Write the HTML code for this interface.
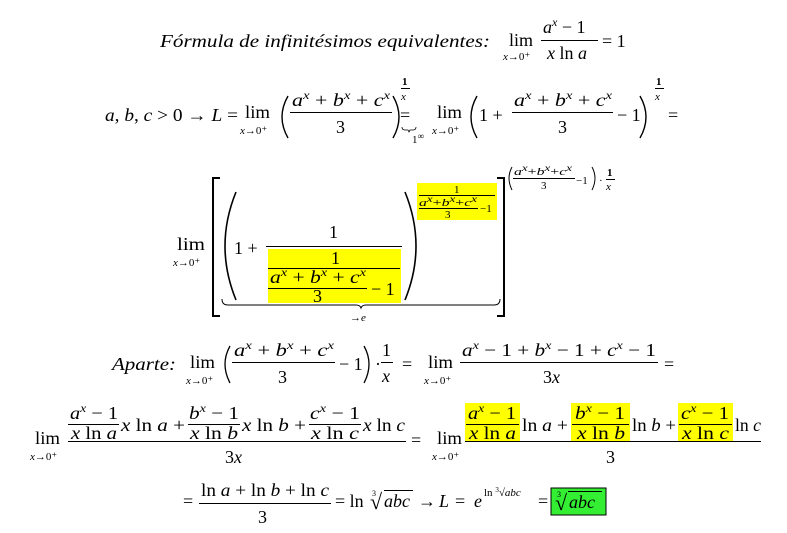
<!DOCTYPE html>
<html><head><meta charset="utf-8"><style>
html,body{margin:0;padding:0;background:#fff;}
svg{display:block;}
text{font-family:"Liberation Serif","DejaVu Serif",serif;font-size:18px;fill:#000;}
.i{font-style:italic;}
.sm{font-size:11px;}
.s{font-size:12px;}
</style></head><body>
<svg width="787" height="533" viewBox="0 0 787 533" xmlns="http://www.w3.org/2000/svg">
<!-- Line 1 -->
<text x="160" y="47" class="i" textLength="330" lengthAdjust="spacingAndGlyphs">Fórmula de infinitésimos equivalentes:</text>
<text x="509" y="46" textLength="24" lengthAdjust="spacingAndGlyphs">lim</text>
<text x="503" y="60" class="sm"><tspan class="i">x</tspan>→0⁺</text>
<text x="543" y="33"><tspan class="i">a</tspan><tspan class="s i" dy="-7">x</tspan><tspan dy="7"> − 1</tspan></text>
<rect x="541" y="40" width="57" height="1"/>
<text x="547" y="59"><tspan class="i">x</tspan> ln <tspan class="i">a</tspan></text>
<text x="602" y="47">= 1</text>

<!-- Line 2 -->
<text x="105" y="121" textLength="133" lengthAdjust="spacingAndGlyphs"><tspan class="i">a</tspan>, <tspan class="i">b</tspan>, <tspan class="i">c</tspan> &gt; 0 → <tspan class="i">L</tspan> =</text>
<text x="245" y="118" textLength="25" lengthAdjust="spacingAndGlyphs">lim</text>
<text x="240" y="134" class="sm"><tspan class="i">x</tspan>→0⁺</text>
<path d="M288 96 Q276 117 288 138" stroke="#000" stroke-width="1.4" fill="none"/>
<text x="292" y="106" textLength="98" lengthAdjust="spacingAndGlyphs"><tspan class="i">a</tspan><tspan class="s i" dy="-7">x</tspan><tspan dy="7"> + </tspan><tspan class="i">b</tspan><tspan class="s i" dy="-7">x</tspan><tspan dy="7"> + </tspan><tspan class="i">c</tspan><tspan class="s i" dy="-7">x</tspan></text>
<rect x="290" y="112" width="102" height="1"/>
<text x="336" y="133">3</text>
<path d="M393 96 Q405 117 393 138" stroke="#000" stroke-width="1.4" fill="none"/>
<text x="402" y="85" class="sm" font-weight="bold">1</text>
<rect x="401" y="88" width="9" height="1"/>
<text x="401" y="100" class="sm i">x</text>
<text x="400" y="121">=</text>
<path d="M402 127 q0 3 3 3 h3 l1 2 l1 -2 h3 q3 0 3 -3" stroke="#000" fill="none" stroke-width="0.8"/>
<text x="412" y="143" class="sm">1<tspan dy="-4" style="font-size:9px">∞</tspan></text>
<text x="437" y="118" textLength="25" lengthAdjust="spacingAndGlyphs">lim</text>
<text x="432" y="134" class="sm"><tspan class="i">x</tspan>→0⁺</text>
<path d="M477 96 Q465 117 477 138" stroke="#000" stroke-width="1.4" fill="none"/>
<text x="479" y="121">1 +</text>
<text x="514" y="106" textLength="98" lengthAdjust="spacingAndGlyphs"><tspan class="i">a</tspan><tspan class="s i" dy="-7">x</tspan><tspan dy="7"> + </tspan><tspan class="i">b</tspan><tspan class="s i" dy="-7">x</tspan><tspan dy="7"> + </tspan><tspan class="i">c</tspan><tspan class="s i" dy="-7">x</tspan></text>
<rect x="512" y="112" width="101" height="1"/>
<text x="558" y="133">3</text>
<text x="617" y="121">− 1</text>
<path d="M640 96 Q652 117 640 138" stroke="#000" stroke-width="1.4" fill="none"/>
<text x="656" y="85" class="sm" font-weight="bold">1</text>
<rect x="655" y="88" width="9" height="1"/>
<text x="655" y="100" class="sm i">x</text>
<text x="668" y="121">=</text>

<!-- Line 3 -->
<text x="177" y="250" textLength="28" lengthAdjust="spacingAndGlyphs">lim</text>
<text x="173" y="266" class="sm"><tspan class="i">x</tspan>→0⁺</text>
<path d="M220 178 H213 V316 H220" stroke="#000" stroke-width="2" fill="none"/>
<path d="M497 178 H504 V316 H497" stroke="#000" stroke-width="2" fill="none"/>
<path d="M236 192 Q214 246 236 300" stroke="#000" stroke-width="1.6" fill="none"/>
<path d="M405 192 Q427 246 405 300" stroke="#000" stroke-width="1.6" fill="none"/>
<rect x="268" y="249" width="133" height="54" fill="#ffff00"/>
<rect x="417" y="183" width="80" height="37" fill="#ffff00"/>
<text x="234" y="254">1 +</text>
<text x="329" y="238">1</text>
<rect x="266" y="246" width="136" height="1"/>
<text x="331" y="264">1</text>
<rect x="268" y="268" width="132" height="1"/>
<text x="270" y="283" textLength="96" lengthAdjust="spacingAndGlyphs"><tspan class="i">a</tspan><tspan class="s i" dy="-7">x</tspan><tspan dy="7"> + </tspan><tspan class="i">b</tspan><tspan class="s i" dy="-7">x</tspan><tspan dy="7"> + </tspan><tspan class="i">c</tspan><tspan class="s i" dy="-7">x</tspan></text>
<rect x="268" y="288" width="99" height="1"/>
<text x="313" y="302">3</text>
<text x="371" y="295">− 1</text>
<text x="454" y="193" class="sm">1</text>
<rect x="419" y="195" width="76" height="1"/>
<text x="419" y="206" class="sm" textLength="58" lengthAdjust="spacingAndGlyphs"><tspan class="i">a</tspan><tspan dy="-4" class="i" style="font-size:9px">x</tspan><tspan dy="4">+</tspan><tspan class="i">b</tspan><tspan dy="-4" class="i" style="font-size:9px">x</tspan><tspan dy="4">+</tspan><tspan class="i">c</tspan><tspan dy="-4" class="i" style="font-size:9px">x</tspan></text>
<rect x="419" y="208" width="59" height="1"/>
<text x="445" y="218" class="sm">3</text>
<text x="480" y="212" class="sm">−1</text>
<path d="M512 167 Q506 178 512 190" stroke="#000" stroke-width="1" fill="none"/>
<text x="514" y="175" class="sm" textLength="58" lengthAdjust="spacingAndGlyphs"><tspan class="i">a</tspan><tspan dy="-4" class="i" style="font-size:9px">x</tspan><tspan dy="4">+</tspan><tspan class="i">b</tspan><tspan dy="-4" class="i" style="font-size:9px">x</tspan><tspan dy="4">+</tspan><tspan class="i">c</tspan><tspan dy="-4" class="i" style="font-size:9px">x</tspan></text>
<rect x="513" y="178" width="62" height="1"/>
<text x="541" y="189" class="sm">3</text>
<text x="576" y="184" class="sm">−1</text>
<path d="M592 167 Q598 178 592 190" stroke="#000" stroke-width="1" fill="none"/>
<text x="599" y="184" class="sm">·</text>
<text x="607" y="176" class="sm" font-weight="bold">1</text>
<rect x="606" y="179" width="9" height="1"/>
<text x="606" y="190" class="sm i">x</text>
<path d="M222 299 q0 6 6 6 h128 q4 0 5 3 q1 -3 5 -3 h128 q6 0 6 -6" stroke="#000" stroke-width="1" fill="none"/>
<text x="350" y="321" class="sm">→<tspan class="i">e</tspan></text>

<!-- Line 4 -->
<text x="112" y="370" class="i" textLength="64" lengthAdjust="spacingAndGlyphs">Aparte:</text>
<text x="190" y="368" textLength="25" lengthAdjust="spacingAndGlyphs">lim</text>
<text x="186" y="384" class="sm"><tspan class="i">x</tspan>→0⁺</text>
<path d="M230 346 Q220 364 230 383" stroke="#000" stroke-width="1.3" fill="none"/>
<text x="234" y="356" textLength="100" lengthAdjust="spacingAndGlyphs"><tspan class="i">a</tspan><tspan class="s i" dy="-7">x</tspan><tspan dy="7"> + </tspan><tspan class="i">b</tspan><tspan class="s i" dy="-7">x</tspan><tspan dy="7"> + </tspan><tspan class="i">c</tspan><tspan class="s i" dy="-7">x</tspan></text>
<rect x="232" y="362" width="103" height="1"/>
<text x="278" y="383">3</text>
<text x="339" y="370">− 1</text>
<path d="M364 346 Q374 364 364 383" stroke="#000" stroke-width="1.3" fill="none"/>
<text x="375" y="370">·</text>
<text x="382" y="356">1</text>
<rect x="381" y="362" width="12" height="1"/>
<text x="382" y="382" class="i">x</text>
<text x="402" y="370">=</text>
<text x="428" y="368" textLength="25" lengthAdjust="spacingAndGlyphs">lim</text>
<text x="424" y="384" class="sm"><tspan class="i">x</tspan>→0⁺</text>
<text x="462" y="356" textLength="194" lengthAdjust="spacingAndGlyphs"><tspan class="i">a</tspan><tspan class="s i" dy="-7">x</tspan><tspan dy="7"> − 1 + </tspan><tspan class="i">b</tspan><tspan class="s i" dy="-7">x</tspan><tspan dy="7"> − 1 + </tspan><tspan class="i">c</tspan><tspan class="s i" dy="-7">x</tspan><tspan dy="7"> − 1</tspan></text>
<rect x="460" y="362" width="198" height="1"/>
<text x="543" y="383">3<tspan class="i">x</tspan></text>
<text x="664" y="370">=</text>

<!-- Line 5 -->
<text x="35" y="444" textLength="25" lengthAdjust="spacingAndGlyphs">lim</text>
<text x="30" y="460" class="sm"><tspan class="i">x</tspan>→0⁺</text>
<text x="70" y="419" textLength="48" lengthAdjust="spacingAndGlyphs"><tspan class="i">a</tspan><tspan class="s i" dy="-7">x</tspan><tspan dy="7"> − 1</tspan></text>
<rect x="68" y="424" width="51" height="1"/>
<text x="71" y="439" textLength="46" lengthAdjust="spacingAndGlyphs"><tspan class="i">x</tspan> ln <tspan class="i">a</tspan></text>
<text x="121" y="431" textLength="64" lengthAdjust="spacingAndGlyphs"><tspan class="i">x</tspan> ln <tspan class="i">a</tspan> +</text>
<text x="189" y="419" textLength="50" lengthAdjust="spacingAndGlyphs"><tspan class="i">b</tspan><tspan class="s i" dy="-7">x</tspan><tspan dy="7"> − 1</tspan></text>
<rect x="188" y="424" width="52" height="1"/>
<text x="190" y="439" textLength="48" lengthAdjust="spacingAndGlyphs"><tspan class="i">x</tspan> ln <tspan class="i">b</tspan></text>
<text x="242" y="431" textLength="64" lengthAdjust="spacingAndGlyphs"><tspan class="i">x</tspan> ln <tspan class="i">b</tspan> +</text>
<text x="310" y="419" textLength="50" lengthAdjust="spacingAndGlyphs"><tspan class="i">c</tspan><tspan class="s i" dy="-7">x</tspan><tspan dy="7"> − 1</tspan></text>
<rect x="309" y="424" width="52" height="1"/>
<text x="311" y="439" textLength="48" lengthAdjust="spacingAndGlyphs"><tspan class="i">x</tspan> ln <tspan class="i">c</tspan></text>
<text x="363" y="431" textLength="42" lengthAdjust="spacingAndGlyphs"><tspan class="i">x</tspan> ln <tspan class="i">c</tspan></text>
<rect x="68" y="441" width="338" height="1"/>
<text x="225" y="463">3<tspan class="i">x</tspan></text>
<text x="411" y="446">=</text>
<text x="437" y="444" textLength="25" lengthAdjust="spacingAndGlyphs">lim</text>
<text x="432" y="460" class="sm"><tspan class="i">x</tspan>→0⁺</text>
<rect x="465" y="403" width="55" height="38" fill="#ffff00"/>
<rect x="571" y="403" width="59" height="38" fill="#ffff00"/>
<rect x="678" y="403" width="55" height="38" fill="#ffff00"/>
<text x="468" y="419" textLength="48" lengthAdjust="spacingAndGlyphs"><tspan class="i">a</tspan><tspan class="s i" dy="-7">x</tspan><tspan dy="7"> − 1</tspan></text>
<rect x="466" y="424" width="53" height="1"/>
<text x="469" y="439" textLength="47" lengthAdjust="spacingAndGlyphs"><tspan class="i">x</tspan> ln <tspan class="i">a</tspan></text>
<text x="522" y="431" textLength="46" lengthAdjust="spacingAndGlyphs">ln <tspan class="i">a</tspan> +</text>
<text x="575" y="419" textLength="50" lengthAdjust="spacingAndGlyphs"><tspan class="i">b</tspan><tspan class="s i" dy="-7">x</tspan><tspan dy="7"> − 1</tspan></text>
<rect x="572" y="424" width="57" height="1"/>
<text x="577" y="439" textLength="48" lengthAdjust="spacingAndGlyphs"><tspan class="i">x</tspan> ln <tspan class="i">b</tspan></text>
<text x="632" y="431" textLength="44" lengthAdjust="spacingAndGlyphs">ln <tspan class="i">b</tspan> +</text>
<text x="681" y="419" textLength="48" lengthAdjust="spacingAndGlyphs"><tspan class="i">c</tspan><tspan class="s i" dy="-7">x</tspan><tspan dy="7"> − 1</tspan></text>
<rect x="679" y="424" width="53" height="1"/>
<text x="682" y="439" textLength="47" lengthAdjust="spacingAndGlyphs"><tspan class="i">x</tspan> ln <tspan class="i">c</tspan></text>
<text x="735" y="431" textLength="26" lengthAdjust="spacingAndGlyphs">ln <tspan class="i">c</tspan></text>
<rect x="465" y="441" width="296" height="1"/>
<text x="606" y="463">3</text>

<!-- Line 6 -->
<text x="183" y="507">=</text>
<text x="201" y="496" textLength="128" lengthAdjust="spacingAndGlyphs">ln <tspan class="i">a</tspan> + ln <tspan class="i">b</tspan> + ln <tspan class="i">c</tspan></text>
<rect x="199" y="503" width="132" height="1"/>
<text x="258" y="523">3</text>
<text x="335" y="507">= ln</text>
<text x="372" y="496" style="font-size:8px">3</text>
<text x="370" y="509" style="font-size:22px">√</text>
<rect x="384" y="490" width="29" height="1"/>
<text x="384" y="507" class="i">abc</text>
<text x="418" y="507">→</text>
<text x="439" y="507" class="i">L</text>
<text x="455" y="507">=</text>
<text x="474" y="507" class="i">e</text>
<text x="484" y="496" class="sm">ln <tspan style="font-size:7px" dy="-4">3</tspan><tspan dy="4">√</tspan><tspan class="i">abc</tspan></text>
<text x="538" y="507">=</text>
<rect x="551" y="488" width="55" height="27" fill="#33ee33" stroke="#000" stroke-width="1"/>
<text x="557" y="497" style="font-size:8px">3</text>
<text x="555" y="510" style="font-size:22px">√</text>
<rect x="568" y="491" width="34" height="1"/>
<text x="569" y="508" class="i">abc</text>
</svg>
</body></html>
